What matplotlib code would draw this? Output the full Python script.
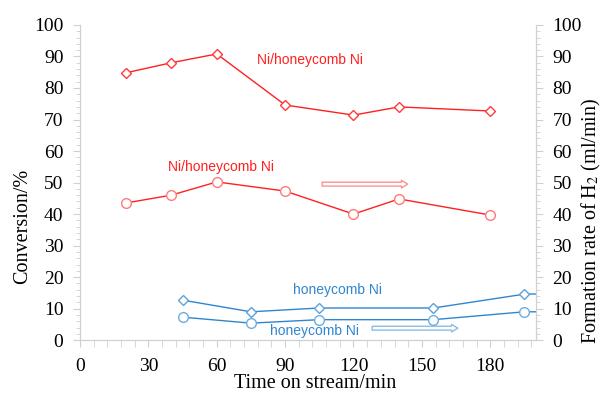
import matplotlib
matplotlib.use("Agg")
import matplotlib.pyplot as plt
from matplotlib.ticker import MultipleLocator

plt.rcParams['font.family'] = ['Liberation Serif', 'DejaVu Serif']
plt.rcParams['mathtext.fontset'] = 'stix'

# conversion (diamonds, left axis) and H2 formation rate (circles, right axis)
t_nihc = [20, 40, 60, 90, 120, 140, 180]
conv_nihc = [84.8, 88.0, 90.8, 74.6, 71.4, 74.0, 72.7]
h2_nihc = [43.5, 46.0, 50.2, 47.3, 40.0, 44.8, 39.7]

t_hc = [45, 75, 105, 155, 195, 215]
conv_hc = [12.7, 9.0, 10.2, 10.2, 14.6, 14.8]
h2_hc = [7.3, 5.4, 6.5, 6.5, 9.0, 9.0]

x_ticks = [0, 30, 60, 90, 120, 150, 180]
y_ticks = list(range(0, 101, 10))

red = '#ff2020'
blue = '#2f86cf'
grey = '#d0d0d0'

fig = plt.figure(figsize=(6.02, 3.96), dpi=100)
ax = fig.add_axes([0.133, 0.141, 0.757, 0.796])
ax2 = ax.twinx()

ax.plot(t_nihc, conv_nihc, marker='D', color=red, markersize=5.5,
        markerfacecolor='white', markeredgecolor='#ff3a3a', lw=1.0)
ax2.plot(t_nihc, h2_nihc, marker='o', color=red, markersize=7,
         markerfacecolor='white', markeredgecolor='#ff7a7a', lw=1.0)
ax.plot(t_hc, conv_hc, marker='D', color=blue, markersize=5.5,
        markerfacecolor='white', markeredgecolor='#5aa3dd', lw=1.0)
ax2.plot(t_hc, h2_hc, marker='o', color=blue, markersize=7,
         markerfacecolor='white', markeredgecolor='#6aaee2', lw=1.0)

for a in (ax, ax2):
    a.set_xlim(0, 200)
    a.set_ylim(0, 100)
    a.set_yticks(y_ticks)
    a.yaxis.set_minor_locator(MultipleLocator(2))
    for s in a.spines.values():
        s.set_color(grey)
    a.spines['top'].set_visible(False)
    a.tick_params(which='both', color=grey, labelsize=14, direction='out', pad=7)
    a.tick_params(which='major', length=5)
    a.tick_params(which='minor', length=3)

ax.set_xticks(x_ticks)
ax.xaxis.set_minor_locator(MultipleLocator(6))
ax.tick_params(axis='x', which='both', length=5, pad=8)

ax.set_xlabel('Time on stream/min', fontsize=14.5)
ax.xaxis.set_label_coords(0.515, -0.108)
ax.set_ylabel('Conversion/%', fontsize=14.5)
ax.yaxis.set_label_coords(-0.106, 0.36)
ax2.set_ylabel('Formation rate of H$_2$ (ml/min)', fontsize=14.5)
ax2.yaxis.set_label_coords(1.097, 0.38)

sans = dict(family='Liberation Sans', fontsize=10)
ax.text(101, 89, 'Ni/honeycomb Ni', color=red, ha='center', va='center', **sans)
ax.text(62, 55, 'Ni/honeycomb Ni', color=red, ha='center', va='center', **sans)
ax.text(113, 16, 'honeycomb Ni', color=blue, ha='center', va='center', **sans)
ax.text(103, 3, 'honeycomb Ni', color=blue, ha='center', va='center', **sans)

# arrows pointing to the right-hand axis
style = 'simple,head_length=0.45,head_width=0.55,tail_width=0.28'
ax.annotate('', xy=(145, 49.5), xytext=(105, 49.5),
            arrowprops=dict(arrowstyle=style, fc='white', ec='#ff9090', lw=1.0))
ax.annotate('', xy=(167, 3.8), xytext=(127, 3.8),
            arrowprops=dict(arrowstyle=style, fc='white', ec='#8cbde4', lw=1.0))

fig.savefig('out.png', dpi=100)
